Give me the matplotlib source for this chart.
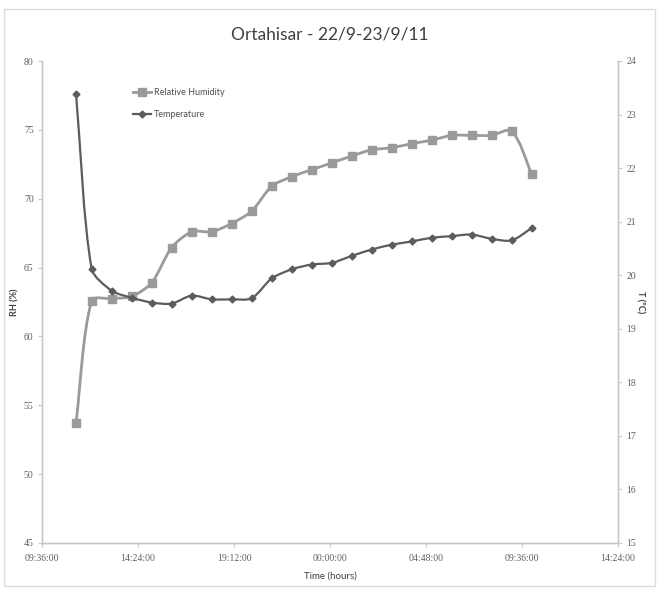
import numpy as np
import matplotlib
matplotlib.use("Agg")
import matplotlib.pyplot as plt
from matplotlib.path import Path
from matplotlib.patches import PathPatch, Rectangle
from matplotlib.lines import Line2D

# ---- data ----
title = "Ortahisar - 22/9-23/9/11"
times = ["11:18", "12:05", "13:05", "14:05", "15:05", "16:05", "17:05", "18:05",
         "19:05", "20:05", "21:05", "22:05", "23:05", "00:05", "01:05", "02:05",
         "03:05", "04:05", "05:05", "06:05", "07:05", "08:05", "09:05", "10:05"]
rh = [53.7, 62.6, 62.75, 62.9, 63.9, 66.45, 67.6, 67.6, 68.2, 69.1, 70.9, 71.6,
      72.1, 72.6, 73.1, 73.55, 73.7, 74.0, 74.25, 74.6, 74.6, 74.6, 74.9, 71.8]
temp = [23.39, 20.12, 19.71, 19.58, 19.49, 19.47, 19.62, 19.55, 19.55, 19.57,
        19.94, 20.11, 20.2, 20.23, 20.36, 20.48, 20.57, 20.63, 20.7, 20.73,
        20.76, 20.68, 20.65, 20.88]
xtick_labels = ["09:36:00", "14:24:00", "19:12:00", "00:00:00", "04:48:00", "09:36:00", "14:24:00"]
xticks_h = [9.6, 14.4, 19.2, 24.0, 28.8, 33.6, 38.4]
rh_ticks = [45, 50, 55, 60, 65, 70, 75, 80]
t_ticks = [15, 16, 17, 18, 19, 20, 21, 22, 23, 24]

# convert times to hours since midnight of 22/9 (rollover after midnight)
hours = []
day = 0
prev = -1
for t in times:
    h, m = map(int, t.split(":"))
    v = h + m / 60
    if v < prev:
        day += 24
    prev = v
    hours.append(v + day)

sans = "Lato"
serif = "Liberation Serif"


def smooth_path(axis, xs, ys, k=0.27):
    """Excel-like smoothed line, control points computed in pixel space."""
    pts = axis.transData.transform(np.column_stack([xs, ys]))
    n = len(pts)
    tang = []
    for i in range(n):
        d = pts[min(i + 1, n - 1)] - pts[max(i - 1, 0)]
        nd = np.hypot(*d)
        tang.append(d / nd if nd > 0 else d)
    verts = [pts[0]]
    codes = [Path.MOVETO]
    for i in range(n - 1):
        L = np.hypot(*(pts[i + 1] - pts[i]))
        c1 = pts[i] + tang[i] * L * k
        c2 = pts[i + 1] - tang[i + 1] * L * k
        verts += [c1, c2, pts[i + 1]]
        codes += [Path.CURVE4] * 3
    verts = axis.transData.inverted().transform(np.array(verts))
    return Path(verts, codes)


rh_color = "#9a9a9a"
t_color = "#5c5c5c"
spine_color = "#c8c8c8"
tick_color = "#606060"

fig = plt.figure(figsize=(6.59, 5.89), dpi=100)
ax = fig.add_axes([42 / 659, 1 - 543 / 589, (618 - 42) / 659, (543 - 61) / 589])
ax2 = ax.twinx()

ax.set_xlim(9.6, 38.4)
ax.set_ylim(45, 80)
ax2.set_ylim(15, 24)
ax2.set_xlim(9.6, 38.4)

# RH
ax.add_patch(PathPatch(smooth_path(ax, hours, rh), fill=False, edgecolor=rh_color, lw=2.0, zorder=2))
ax.plot(hours, rh, ls="none", marker="s", ms=6, color=rh_color, zorder=3)
# Temperature
ax2.add_patch(PathPatch(smooth_path(ax2, hours, temp), fill=False, edgecolor=t_color, lw=1.6, zorder=2))
ax2.plot(hours, temp, ls="none", marker="D", ms=3.5, color=t_color, zorder=3)

ax.set_xticks(xticks_h)
ax.set_xticklabels(xtick_labels)
ax.set_yticks(rh_ticks)
ax2.set_yticks(t_ticks)

for a in (ax, ax2):
    a.spines["top"].set_visible(False)
    for s in ("left", "right", "bottom"):
        a.spines[s].set_color(spine_color)
        a.spines[s].set_linewidth(1.0)
    a.tick_params(colors=spine_color, labelcolor=tick_color, length=3, width=0.8, labelsize=7, pad=3)
    for lab in a.get_xticklabels() + a.get_yticklabels():
        lab.set_fontfamily(serif)
ax.tick_params(axis="x", pad=5)

ax.set_ylabel("RH (%)", fontsize=6.5, color="#404040", fontweight="bold", labelpad=3, family=sans)
ax2.set_ylabel("T (ºC)", fontsize=6.5, color="#404040", fontweight="bold", rotation=270,
               labelpad=6, family=sans)
ax.set_xlabel("Time (hours)", fontsize=7, color="#404040", labelpad=6, family=sans)

fig.text(0.5, 1 - 35 / 589, title, ha="center", va="center", fontsize=12.5,
         color="#404040", family=sans)

handles = [Line2D([], [], color=rh_color, lw=2.0, marker="s", ms=6),
           Line2D([], [], color=t_color, lw=1.6, marker="D", ms=3.5)]
leg = ax.legend(handles, ["Relative Humidity", "Temperature"], loc="upper left",
                bbox_to_anchor=((125 - 42) / 576, 1 - (80 - 61) / 482),
                frameon=False, labelspacing=1.4, handlelength=2.0,
                handletextpad=0.3, prop={"family": sans, "size": 6.5})
for txt in leg.get_texts():
    txt.set_color("#505050")

fig.patches.append(Rectangle((4 / 659, 1 - 586 / 589), 651 / 659, 577 / 589,
                             transform=fig.transFigure, fill=False,
                             edgecolor="#dddddd", lw=1.0))

fig.savefig("out.png", dpi=100)
